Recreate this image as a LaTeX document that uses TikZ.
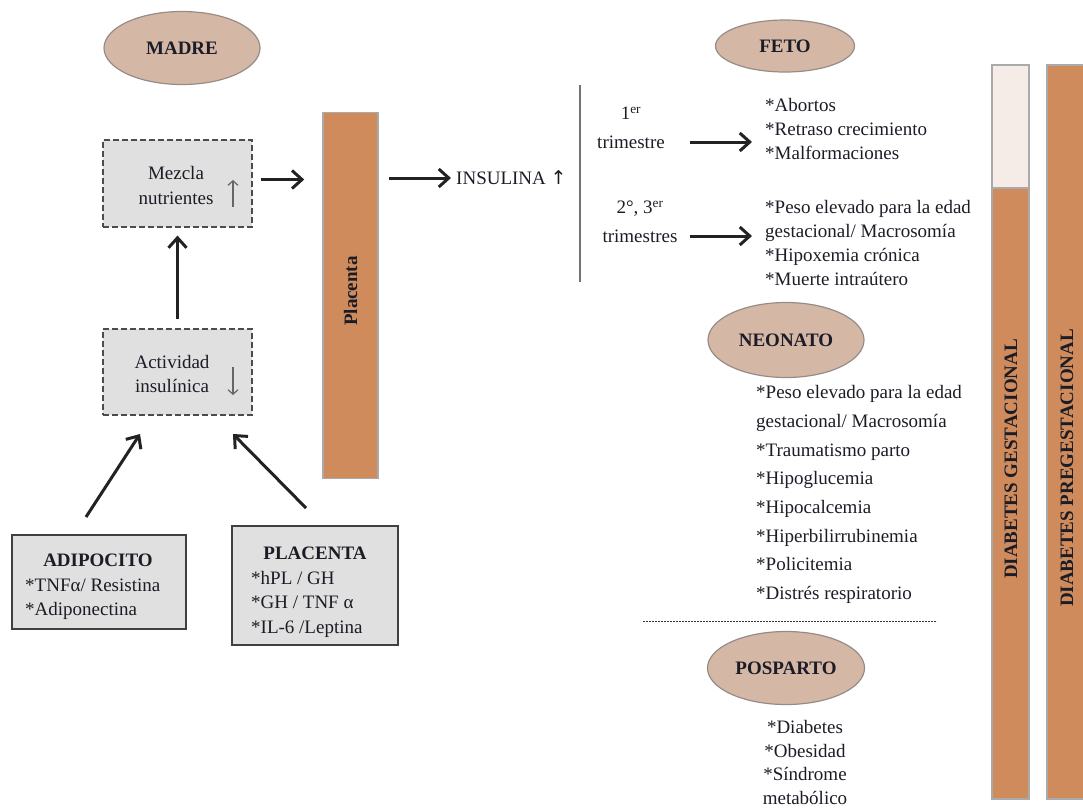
\documentclass[tikz,border=0pt]{standalone}
\usepackage{fontspec}
\setmainfont{Liberation Serif}
\newfontfamily\arrfont{DejaVu Sans}
\usetikzlibrary{arrows.meta,shapes.geometric}
\definecolor{orangebar}{RGB}{207,139,92}
\definecolor{lightbar}{RGB}{246,236,231}
\definecolor{ellfill}{RGB}{213,183,166}
\definecolor{ellline}{RGB}{150,140,135}
\definecolor{boxfill}{RGB}{224,224,224}
\definecolor{barline}{RGB}{170,170,170}
\definecolor{txt}{RGB}{28,28,38}
\definecolor{arr}{RGB}{34,34,34}
\tikzset{
  every node/.style={font=\fontsize{19}{24}\selectfont, text=txt, inner sep=0pt},
  phase/.style={ellipse, draw=ellline, line width=1.2pt, fill=ellfill, font=\fontsize{19}{24}\selectfont\bfseries},
  dashbox/.style={draw=black!70, dashed, dash pattern=on 6pt off 3pt, line width=1.1pt, fill=boxfill},
  solidbox/.style={draw=black!75, line width=1.3pt, fill=boxfill},
  bar/.style={draw=barline, line width=1.5pt, fill=orangebar},
  bigarrow/.style={draw=arr, line width=3pt, -{Straight Barb[length=10pt,width=18pt]}},
  thinarrow/.style={draw=black!60, line width=1.2pt, -{Straight Barb[length=4.5pt,width=10pt]}},
  listtext/.style={align=left, font=\fontsize{19}{24}\selectfont},
}
\begin{document}
\begin{tikzpicture}[x=1pt,y=-1pt]
\useasboundingbox (0,0) rectangle (1083,807);

% ellipses
\node[phase, minimum width=156pt, minimum height=73pt] (madre) at (182,48) {MADRE};
\node[phase, minimum width=139pt, minimum height=52pt] (feto) at (785,46) {FETO};
\node[phase, minimum width=156pt, minimum height=75pt] (neonato) at (786,340) {NEONATO};
\node[phase, minimum width=157pt, minimum height=73pt] (posparto) at (786,668) {POSPARTO};

% maternal boxes
\node[dashbox, minimum width=149pt, minimum height=87pt] (mezcla) at (177.5,183.5) {};
\node[align=center, font=\fontsize{19}{25}\selectfont] (mezclat) at (176,185) {Mezcla\\nutrientes};
\coordinate (mz1) at (233,207);
\coordinate (mz2) at (233,180);
\draw[thinarrow] (mz1) -- (mz2);

\node[dashbox, minimum width=149pt, minimum height=86pt] (actividad) at (177.5,372) {};
\node[align=center, font=\fontsize{19}{24}\selectfont] (actt) at (172,374) {Actividad\\insulínica};
\coordinate (ac1) at (233,367);
\coordinate (ac2) at (233,395);
\draw[thinarrow] (ac1) -- (ac2);

% placenta bar
\node[bar, minimum width=55pt, minimum height=366pt] (placenta) at (350.5,295.5) {};
\node[rotate=90, font=\fontsize{19}{24}\selectfont\bfseries] (placentat) at (350.5,291) {Placenta};

% lower boxes
\node[solidbox, minimum width=174pt, minimum height=94pt] (adipo) at (99,582) {};
\node[font=\fontsize{19}{24}\selectfont\bfseries] (adipot) at (98,560) {ADIPOCITO};
\node[listtext, anchor=west] (adipol) at (25,599) {*TNFα/ Resistina\\*Adiponectina};

\node[solidbox, minimum width=166pt, minimum height=119pt] (plac2) at (315,585.5) {};
\node[font=\fontsize{19}{24}\selectfont\bfseries] (plac2t) at (315,553) {PLACENTA};
\node[listtext, anchor=west, font=\fontsize{19}{24.5}\selectfont] (plac2l) at (251,604) {*hPL / GH\\*GH / TNF α\\*IL-6 /Leptina};

% maternal arrows
\draw[bigarrow, shorten <=8pt, shorten >=18pt] ([yshift=4pt]mezcla.east) -- ([yshift=4pt]mezcla.east -| placenta.west);
\draw[bigarrow, shorten <=9pt, shorten >=8pt] (actividad.north) -- (mezcla.south);
\coordinate (d1s) at (86,517);
\coordinate (d1e) at (140,434);
\draw[bigarrow] (d1s) -- (d1e);
\coordinate (d2s) at (306,508);
\coordinate (d2e) at (233,434);
\draw[bigarrow] (d2s) -- (d2e);

% insulina
\node[anchor=west] (insulina) at (456,178) {INSULINA {\arrfont\fontsize{19}{20}\selectfont ↑}};
\draw[bigarrow, shorten <=10pt, shorten >=5pt] (placenta.east |- insulina) -- (insulina.west);

% vertical divider
\coordinate (v1) at (580,85);
\coordinate (v2) at (580,282);
\draw[draw=black!55, line width=1.6pt] (v1) -- (v2);

% trimesters
\node[align=center, font=\fontsize{19}{29}\selectfont] (t1) at (631,128) {1\textsuperscript{er}\\trimestre};
\node[align=center, font=\fontsize{19}{29}\selectfont] (t2) at (640,222) {2°, 3\textsuperscript{er}\\trimestres};
\node[listtext, anchor=west] (l1) at (765,129) {*Abortos\\*Retraso crecimiento\\*Malformaciones};
\node[listtext, anchor=west] (l2) at (765,243) {*Peso elevado para la edad\\gestacional/ Macrosomía\\*Hipoxemia crónica\\*Muerte intraútero};
\draw[bigarrow, shorten <=25pt, shorten >=13pt] ([yshift=-14pt]t1.east) -- ([yshift=-14pt]t1.east -| l1.west);
\draw[bigarrow, shorten <=12pt, shorten >=13pt] ([yshift=-14pt]t2.east) -- ([yshift=-14pt]t2.east -| l2.west);

% neonato list
\node[listtext, anchor=west, font=\fontsize{19}{28.7}\selectfont] (nl) at (756,494.5) {*Peso elevado para la edad\\gestacional/ Macrosomía\\*Traumatismo parto\\*Hipoglucemia\\*Hipocalcemia\\*Hiperbilirrubinemia\\*Policitemia\\*Distrés respiratorio};

% dotted separator
\coordinate (s1) at (643,621);
\coordinate (s2) at (937,621);
\draw[black!80, line width=1pt, dash pattern=on 2pt off 1pt] (s1) -- (s2);

% posparto list
\node[align=center, font=\fontsize{19}{23.8}\selectfont] (pl) at (805,762.5) {*Diabetes\\*Obesidad\\*Síndrome\\metabólico};

% diabetes bars
\node[bar, fill=lightbar, minimum width=37pt, minimum height=123pt] (gtop) at (1010.5,126.5) {};
\node[bar, minimum width=37pt, minimum height=611pt] (gbar) at (1010.5,493.5) {};
\node[rotate=90, font=\fontsize{19}{24}\selectfont\bfseries] (gt) at (1011,459) {DIABETES GESTACIONAL};
\node[bar, minimum width=45pt, minimum height=734pt] (pbar) at (1069.5,432) {};
\node[rotate=90, font=\fontsize{19}{24}\selectfont\bfseries] (pt) at (1067,468) {DIABETES PREGESTACIONAL};
\end{tikzpicture}
\end{document}
